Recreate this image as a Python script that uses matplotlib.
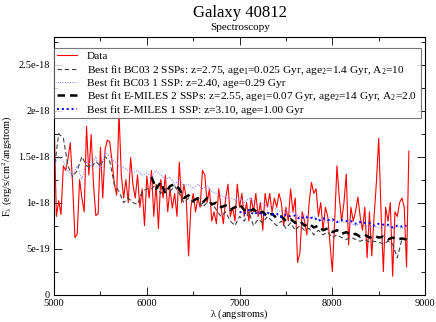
import numpy as np
import matplotlib
matplotlib.use("Agg")
import matplotlib.pyplot as plt
from matplotlib.ticker import MultipleLocator, FixedLocator, FixedFormatter

plt.rcParams['font.family'] = ['Liberation Serif', 'DejaVu Serif']
plt.rcParams['mathtext.fontset'] = 'custom'
plt.rcParams['mathtext.rm'] = 'Liberation Serif'
plt.rcParams['mathtext.it'] = 'Liberation Serif'
plt.rcParams['mathtext.bf'] = 'Liberation Serif:bold'

# ---------------- data (flux in units of 1e-18 erg/s/cm^2/A) ----------------
data_start, data_step = 5000, 25
data_flux = [
    1.90, 0.85, 1.02, 0.87, 1.40, 1.35, 1.48, 1.65, 1.20, 0.62,
    0.66, 1.25, 1.05, 0.90, 1.83, 1.30, 1.74, 1.20, 0.86, 0.88,
    1.60, 1.05, 1.58, 1.68, 1.66, 1.45, 1.20, 1.08, 1.98, 1.30,
    1.05, 1.25, 1.00, 1.49, 1.20, 1.05, 1.30, 0.95, 1.15, 0.75,
    1.29, 1.05, 1.35, 0.85, 1.20, 0.72, 1.25, 1.05, 1.30, 0.90,
    1.15, 0.94, 1.10, 0.85, 1.44, 1.00, 1.20, 1.05, 0.42, 0.95,
    1.10, 0.90, 1.05, 0.95, 1.35, 1.30, 1.00, 1.15, 0.80, 0.90,
    0.77, 1.15, 0.95, 0.77, 1.05, 1.20, 0.85, 0.95, 0.80, 1.20,
    0.95, 1.10, 0.85, 1.00, 0.80, 1.05, 0.90, 1.10, 0.85, 1.00,
    0.70, 1.10, 0.95, 1.10, 0.90, 1.05, 0.95, 1.10, 1.00, 0.75,
    0.95, 0.80, 1.15, 0.90, 1.05, 0.35, 0.45, 0.90, 0.80, 0.65,
    1.00, 1.22, 1.10, 1.15, 0.85, 1.00, 0.70, 0.95, 0.85, 0.55,
    0.25, 0.80, 1.40, 1.05, 0.80, 1.00, 1.31, 0.54, 0.95, 0.80,
    0.90, 1.06, 0.85, 0.70, 0.95, 0.40, 0.90, 0.42, 0.85, 1.22,
    1.70, 0.90, 0.25, 0.95, 0.80, 1.00, 0.20, 0.90, 0.85, 1.00,
    1.05, 0.95, 0.30, 1.56,
]

model_step = 50
bc03_2_start = 5000
bc03_2_flux = [
    1.35, 1.75, 1.70, 1.40, 1.28, 1.35, 1.50, 1.40, 1.38, 1.45,
    1.40, 1.50, 1.45, 1.20, 1.12, 1.00, 1.05, 1.00, 0.98, 1.12,
    1.15, 1.15, 1.20, 1.10, 1.15, 1.12, 1.18, 1.10, 1.00, 1.05,
    1.00, 1.05, 0.95, 1.00, 1.00, 0.92, 0.85, 0.90, 0.80, 0.75,
    0.85, 0.80, 0.90, 0.75, 0.82, 0.78, 0.85, 0.80, 0.75, 0.80,
    0.72, 0.78, 0.70, 0.75, 0.70, 0.72, 0.65, 0.70, 0.65, 0.68,
    0.62, 0.65, 0.62, 0.60, 0.62, 0.60, 0.58, 0.60, 0.57, 0.58,
    0.57, 0.55, 0.58, 0.55, 0.40, 0.60, 0.60,
]

bc03_1_start = 5000
bc03_1_flux = [
    1.40, 1.50, 1.45, 1.35, 1.30, 1.40, 1.25, 1.45, 1.40, 1.50,
    1.35, 1.55, 1.50, 1.45, 1.40, 1.38, 1.35, 1.33, 1.35, 1.30,
    1.32, 1.28, 1.35, 1.30, 1.25, 1.28, 1.20, 1.25, 1.18, 1.20,
    1.15, 1.20, 1.15, 1.18, 1.12, 1.10, 1.08, 1.05, 1.05, 1.03,
    1.05, 1.00, 1.05, 1.02, 0.98, 1.00, 0.95, 0.97, 0.92, 0.90,
    0.92, 0.90, 0.88, 0.85, 0.87, 0.83, 0.85, 0.82, 0.80, 0.82,
    0.80, 0.78, 0.80, 0.78, 0.77, 0.75, 0.77, 0.75, 0.73, 0.75,
    0.72, 0.73, 0.75, 0.72, 0.74, 0.72, 0.73,
]

emiles_2_start = 6050
emiles_2_flux = [
    1.28, 1.15, 1.22, 1.10, 1.18, 1.20, 1.15, 1.05, 1.08, 1.02,
    1.05, 1.00, 1.05, 0.98, 1.00, 0.95, 0.97, 0.92, 0.95, 0.98,
    0.92, 0.90, 0.93, 0.88, 0.90, 0.85, 0.88, 0.83, 0.85, 0.80,
    0.82, 0.78, 0.80, 0.75, 0.77, 0.73, 0.75, 0.70, 0.72, 0.68,
    0.70, 0.66, 0.68, 0.65, 0.66, 0.63, 0.65, 0.62, 0.64, 0.62,
    0.63, 0.60, 0.62, 0.60, 0.61, 0.60,
]

emiles_1_start = 7000
emiles_1_flux = [
    0.90, 0.88, 0.92, 0.87, 0.90, 0.86, 0.89, 0.87, 0.88, 0.84,
    0.87, 0.85, 0.86, 0.82, 0.85, 0.83, 0.84, 0.80, 0.83, 0.81,
    0.82, 0.79, 0.81, 0.80, 0.80, 0.77, 0.79, 0.78, 0.78, 0.75,
    0.77, 0.76, 0.76, 0.73, 0.75, 0.74, 0.75,
]

labels = [
    "Data",
    r"Best fit BC03 2 SSPs: z=2.75, age$_\mathrm{1}$=0.025 Gyr, age$_\mathrm{2}$=1.4 Gyr, A$_\mathrm{2}$=10",
    "Best fit BC03 1 SSP: z=2.40, age=0.29 Gyr",
    r"Best fit E-MILES 2 SSPs: z=2.55, age$_\mathrm{1}$=0.07 Gyr, age$_\mathrm{2}$=14 Gyr, A$_\mathrm{2}$=2.0",
    "Best fit E-MILES 1 SSP: z=3.10, age=1.00 Gyr",
]

xticks = [5000, 6000, 7000, 8000, 9000]
yticks = [0, 0.5, 1.0, 1.5, 2.0, 2.5]
yticklabels = ["0", "5e-19", "1e-18", "1.5e-18", "2e-18", "2.5e-18"]


def wl(start, step, arr):
    return start + step * np.arange(len(arr))


fig = plt.figure(figsize=(4.36, 3.22), dpi=100)
ax = fig.add_axes([0.124, 0.085, 0.851, 0.800])

ax.plot(wl(data_start, data_step, data_flux), data_flux, color='#ff0000', lw=0.8, label=labels[0])
ax.plot(wl(bc03_2_start, model_step, bc03_2_flux), bc03_2_flux, color='#404040', lw=0.8,
        ls=(0, (4, 2.5)), label=labels[1])
ax.plot(wl(bc03_1_start, model_step, bc03_1_flux), bc03_1_flux, color='#8c8cff', lw=0.8,
        ls=(0, (1, 1.2)), label=labels[2])
ax.plot(wl(emiles_2_start, model_step, emiles_2_flux), emiles_2_flux, color='black', lw=1.8,
        ls=(0, (3, 2)), label=labels[3])
ax.plot(wl(emiles_1_start, model_step, emiles_1_flux), emiles_1_flux, color='#0000ff', lw=1.4,
        ls=(0, (1, 1.5)), label=labels[4])

ax.set_xlim(5000, 9000)
ax.set_ylim(0, 2.8)
ax.xaxis.set_major_locator(FixedLocator(xticks))
ax.xaxis.set_minor_locator(MultipleLocator(500))
ax.yaxis.set_major_locator(FixedLocator(yticks))
ax.yaxis.set_major_formatter(FixedFormatter(yticklabels))
ax.yaxis.set_minor_locator(MultipleLocator(0.25))
ax.tick_params(which='both', direction='in', top=True, right=True, labelsize=7.5, pad=3, width=0.6)
ax.tick_params(which='major', length=6)
ax.tick_params(which='minor', length=3)
for s in ax.spines.values():
    s.set_linewidth(0.8)

ax.set_xlabel(r"$\lambda$ (angstroms)", fontsize=7.5, labelpad=0)
ax.set_ylabel(r"F$_\lambda$ (erg/s/cm$^\mathrm{2}$/angstrom)", fontsize=7.5, labelpad=3)

fig.text(0.55, 1 - 13 / 322, "Galaxy 40812", ha='center', va='center', fontsize=12)
fig.text(0.55, 1 - 27 / 322, "Spectroscopy", ha='center', va='center', fontsize=8)

leg = ax.legend(loc='upper left', bbox_to_anchor=(0.0, 0.958), borderaxespad=0, fontsize=8.2,
                frameon=True, fancybox=False, edgecolor='#555555', handlelength=1.7,
                handletextpad=0.9, labelspacing=0.12, borderpad=0.3)
leg.get_frame().set_linewidth(0.8)

fig.savefig("out.png", dpi=100)
